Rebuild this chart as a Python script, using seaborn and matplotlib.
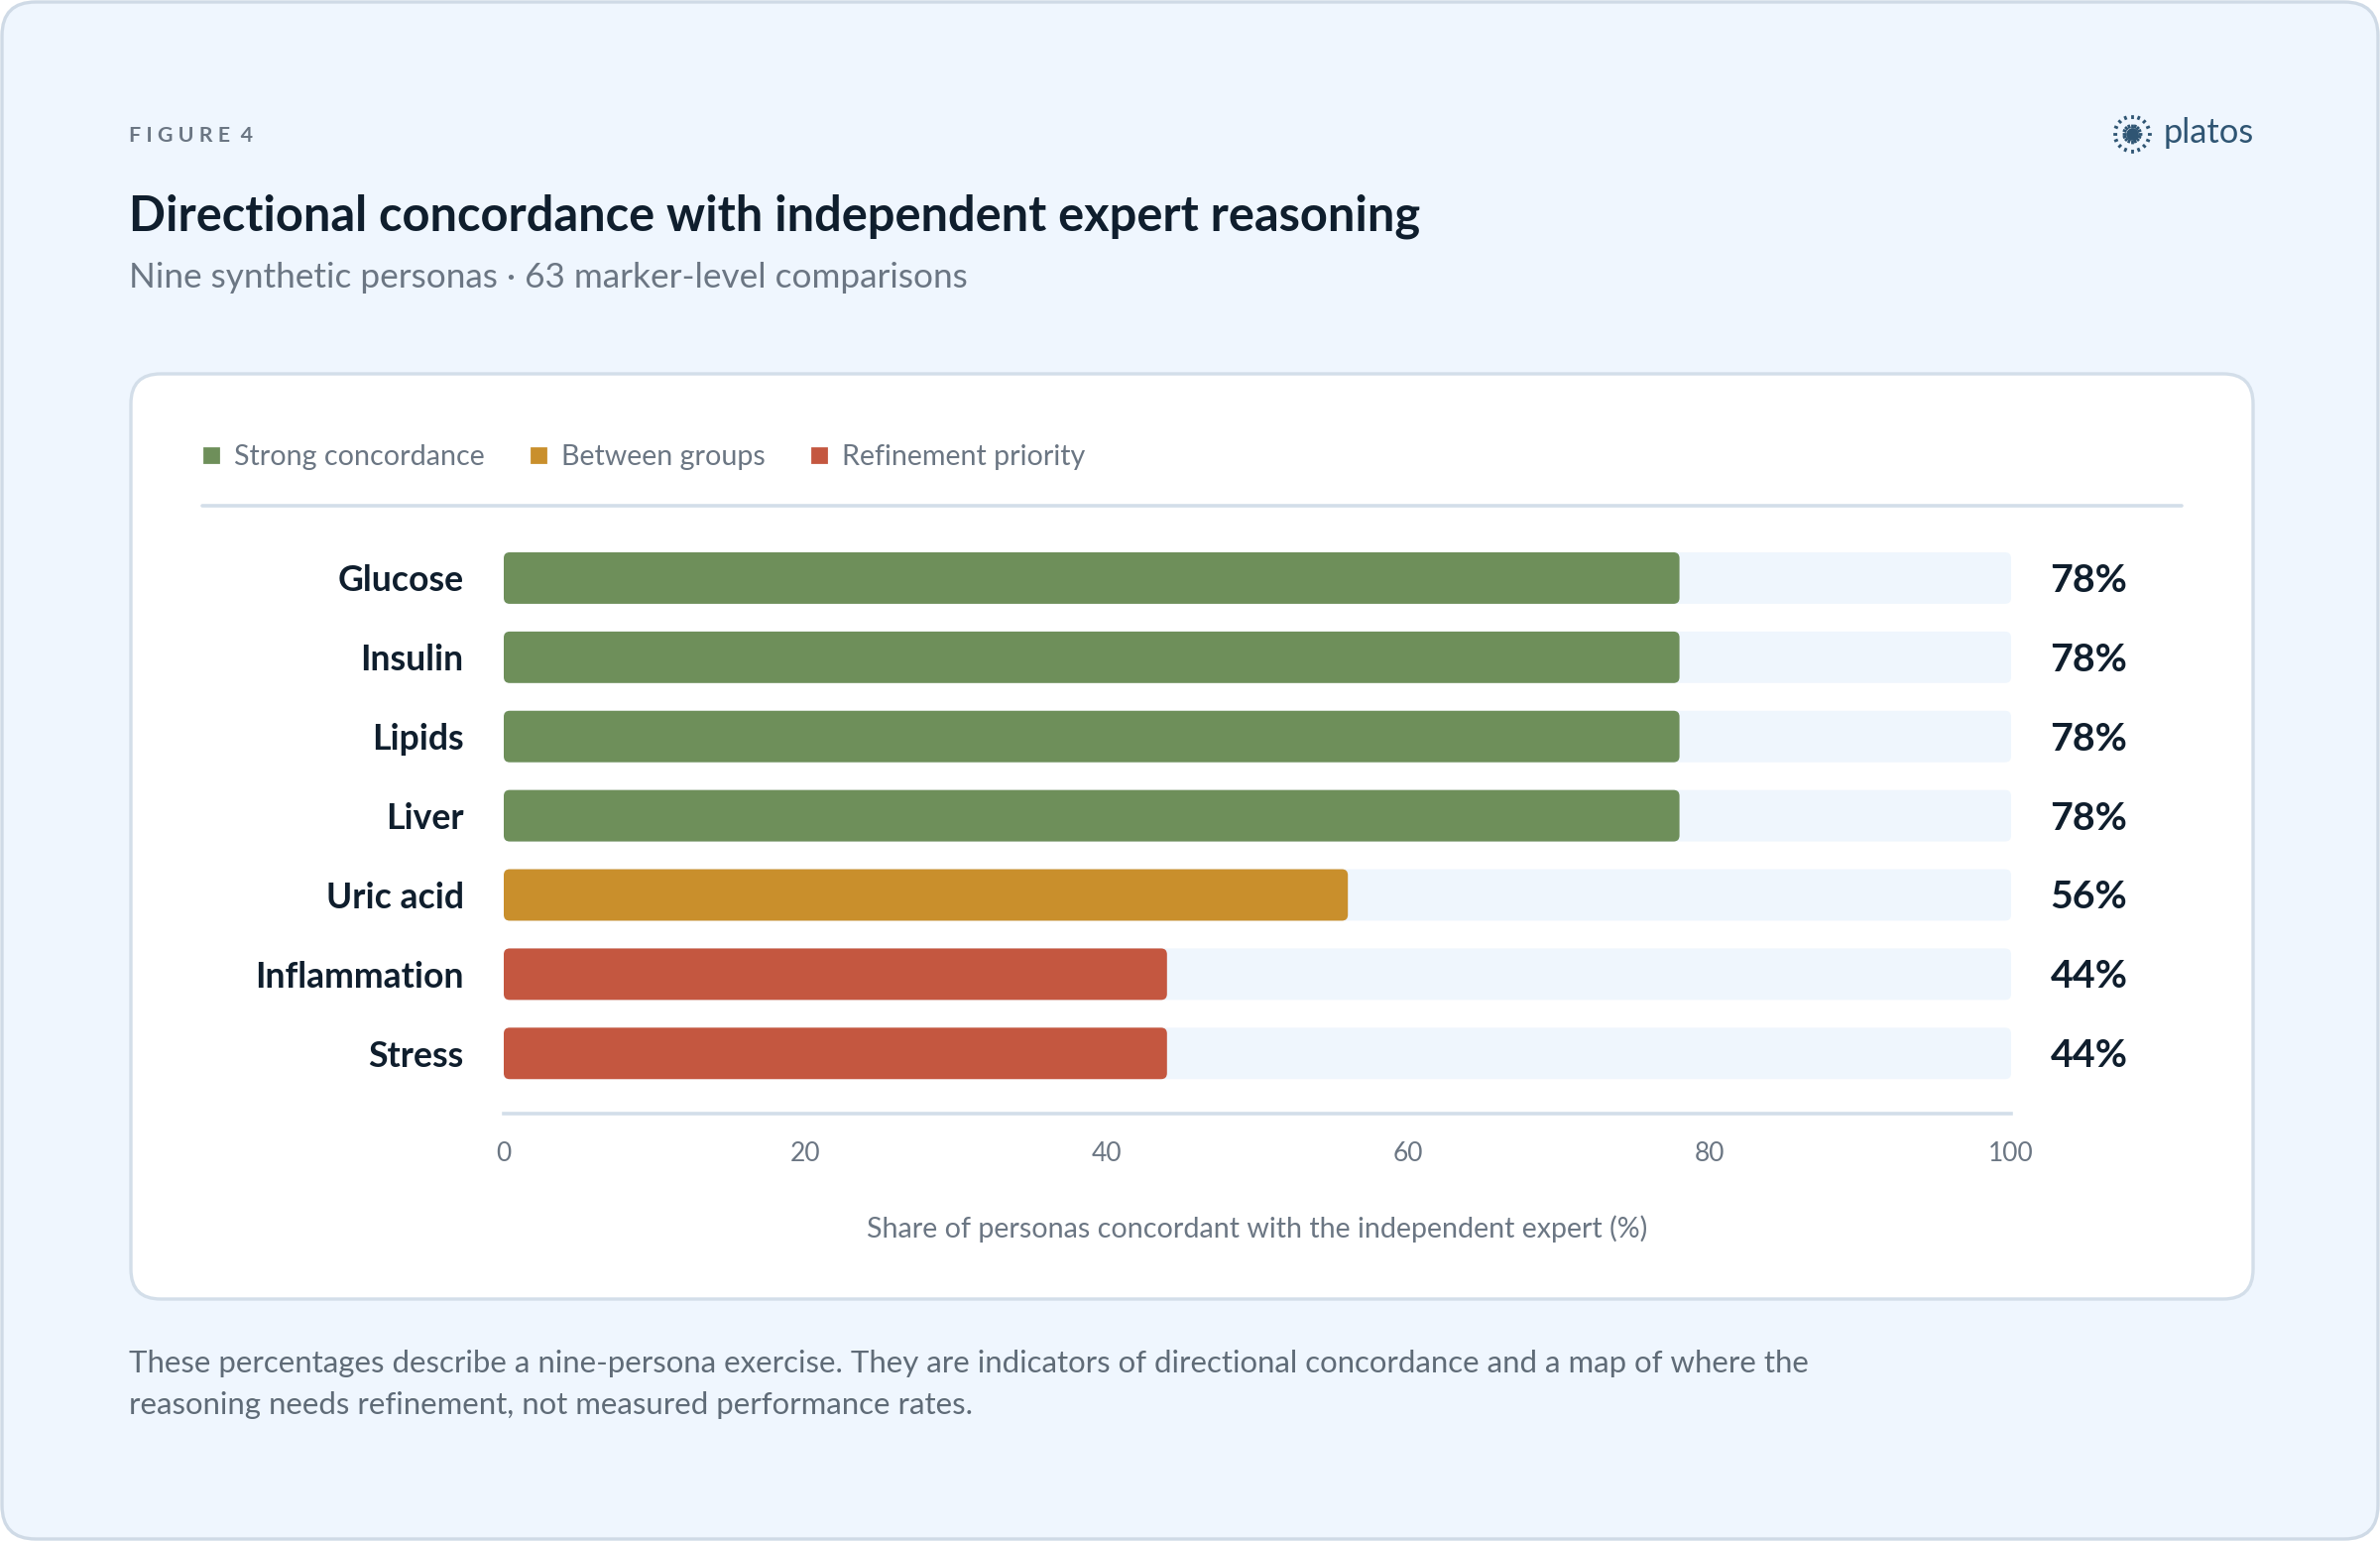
import numpy as np
import pandas as pd
import matplotlib.pyplot as plt
import seaborn as sns
from matplotlib.patches import FancyBboxPatch
from matplotlib.lines import Line2D

# datos
markers = ["Glucose", "Insulin", "Lipids", "Liver", "Uric acid", "Inflammation", "Stress"]
shares = [78, 78, 78, 78, 56, 44, 44]
groups = ["Strong concordance"] * 4 + ["Between groups"] + ["Refinement priority"] * 2
group_names = ["Strong concordance", "Between groups", "Refinement priority"]
group_colors = ["#6e8f5a", "#c98f2c", "#c45740"]
track = [100] * 7
x_ticks = [0, 20, 40, 60, 80, 100]

df = pd.DataFrame({"marker": markers, "share": shares, "group": groups, "track": track})

DARK = "#0f1e2d"
GREY = "#6b7683"
LINE = "#d3dee9"

sns.set_theme(style="white")
plt.rcParams["font.family"] = ["Lato", "DejaVu Sans"]

W, H = 2400, 1554
fig = plt.figure(figsize=(12, 7.77), dpi=200)
fig.patch.set_facecolor("white")

# capa de fondo en pixeles
bg = fig.add_axes([0, 0, 1, 1], zorder=0)
bg.set_xlim(0, W)
bg.set_ylim(H, 0)
bg.axis("off")

bg.add_patch(FancyBboxPatch((2, 2), W - 4, H - 4, boxstyle="round,pad=0,rounding_size=34",
                            fc="#eff6fe", ec="#cfdae6", lw=1.2))
bg.add_patch(FancyBboxPatch((132, 377), 2140, 933, boxstyle="round,pad=0,rounding_size=30",
                            fc="white", ec=LINE, lw=1.2))

bg.text(130, 137, " ".join("FIGURE") + "  4", fontsize=7.7, fontweight="bold",
        color=GREY, va="center", ha="left")
bg.text(130, 218, "Directional concordance with independent expert reasoning", fontsize=17.55,
        fontweight="bold", color=DARK, va="center", ha="left")
bg.text(130, 280, "Nine synthetic personas \u00b7 63 marker-level comparisons", fontsize=12.65,
        color=GREY, va="center", ha="left")
bg.text(130, 1396, "These percentages describe a nine-persona exercise. They are indicators of directional "
        "concordance and a map of where the\nreasoning needs refinement, not measured performance rates.",
        fontsize=11.2, color="#5f6b77", va="center", ha="left", linespacing=1.6)

# logo
cx, cy = 2150, 135
for a in np.deg2rad(np.arange(0, 360, 22.5)):
    bg.plot([cx + 6 * np.cos(a), cx + 22 * np.cos(a)], [cy + 6 * np.sin(a), cy + 22 * np.sin(a)],
            color="#2f5573", lw=1.0, dashes=(1.4, 2.0))
bg.plot([cx], [cy], marker="o", ms=3.5, color="#2f5573")
bg.text(2182, 134, "platos", fontsize=12.4, color="#2f5573", va="center", ha="left")

# linea separadora bajo la leyenda
bg.plot([204, 2200], [510, 510], color=LINE, lw=1.3)

# grafico principal
ax = fig.add_axes([508 / W, 1 - 1123 / H, 1520 / W, 580 / H], zorder=2)
ax.patch.set_alpha(0)

sns.barplot(data=df, x="track", y="marker", color="#eff6fd", width=0.65, saturation=1, ax=ax)
sns.barplot(data=df, x="share", y="marker", hue="group", hue_order=group_names,
            palette=group_colors, width=0.65, dodge=False, saturation=1, legend=False, ax=ax)

ax.set_xlim(0, 100)
ax.set_ylim(6.76, -0.5)

# esquinas redondeadas
px_x = 1520 / 100.0
px_y = 580 / 7.26
r = 6 / px_x
asp = (6 / px_y) / r
for p in list(ax.patches):
    x, y, w, h = p.get_x(), p.get_y(), p.get_width(), p.get_height()
    if w <= 0:
        continue
    fb = FancyBboxPatch((x, y), w, h, boxstyle=f"round,pad=0,rounding_size={r}",
                        mutation_aspect=asp, fc=p.get_facecolor(), ec="none", zorder=p.get_zorder())
    p.remove()
    ax.add_patch(fb)

for i, v in enumerate(shares):
    ax.text(102.6, i + 0.03, f"{v}%", fontsize=14.2, fontweight="bold", color=DARK,
            va="center", ha="left", clip_on=False)

for s in ["top", "right", "left"]:
    ax.spines[s].set_visible(False)
ax.spines["bottom"].set_color(LINE)
ax.spines["bottom"].set_linewidth(1.3)

ax.set_xticks(x_ticks)
ax.set_xticklabels([str(t) for t in x_ticks])
ax.tick_params(axis="x", length=0, pad=10, labelsize=9.5, labelcolor=GREY)
ax.tick_params(axis="y", length=0, pad=14.5, labelsize=12.8, labelcolor=DARK)
for t in ax.get_yticklabels():
    t.set_fontweight("bold")
ax.set_ylabel("")
ax.set_xlabel("Share of personas concordant with the independent expert (%)", fontsize=10.3,
              color=GREY, labelpad=18)

# leyenda
handles = [Line2D([], [], marker="s", ls="", color=c, markersize=5.3) for c in group_colors]
fig.legend(handles, group_names, loc="center left", bbox_to_anchor=(203 / W, 1 - 461 / H),
           ncol=3, frameon=False, fontsize=10.3, labelcolor=GREY, handlelength=0.7,
           handletextpad=0.45, columnspacing=1.55, borderpad=0, borderaxespad=0)

fig.savefig("out.png", dpi=200, facecolor=fig.get_facecolor())
